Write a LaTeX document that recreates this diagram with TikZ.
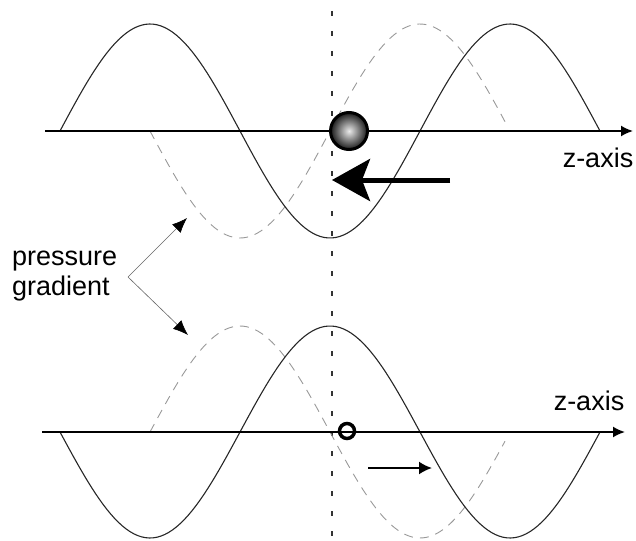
\documentclass[tikz,border=0pt]{standalone}
\usepackage{fontspec}
\setmainfont{Liberation Sans}
\usetikzlibrary{arrows.meta}

\begin{document}
\begin{tikzpicture}[
  x=1pt, y=-1pt,
  wave/.style={line width=1.1pt, black!85},
  ghost/.style={line width=0.9pt, black!40, dash pattern=on 9pt off 7pt},
  axis/.style={line width=1.8pt, -{Latex[length=12pt, width=11pt]}},
  lbl/.style={font=\fontsize{27}{30}\selectfont, inner sep=0pt, align=left},
  ptr/.style={line width=0.6pt, black!60, -{Latex[length=15pt, width=12pt, black]}},
  force/.style={line width=5pt, -{Stealth[length=38pt, width=42pt, inset=8pt]}},
  drift/.style={line width=2pt, -{Latex[length=13pt, width=13pt]}}
]
\useasboundingbox (0,0) rectangle (636,540);

% vertical reference line
\coordinate (vtop) at (332,0);
\coordinate (vbot) at (332,540);
\draw[line width=2.7pt, black!80, dash pattern=on 5pt off 15pt, dash phase=9pt]
  (vtop) -- (vbot);

% upper panel
\coordinate (ua) at (45,131);
\coordinate (ub) at (633,131);
\draw[ghost] plot[domain=150:505, samples=100] (\x, {131+107*sin(\x-150)});
\draw[wave]  plot[domain=60:600,  samples=140] (\x, {131-107*sin(\x-60)});
\draw[axis] (ua) -- (ub);
\node[lbl] (uz) at (598,158) {z-axis};
\node[circle, minimum size=37pt, inner sep=0pt, draw=black, line width=3pt,
      inner color=black!8, outer color=black!90] (bead) at (349,131) {};
\coordinate (ft) at (450,180);
\coordinate (fh) at (332,180);
\draw[force] (ft) -- (fh);

% lower panel
\coordinate (la) at (42,432);
\coordinate (lb) at (625,432);
\draw[ghost] plot[domain=150:505, samples=100] (\x, {432-106*sin(\x-150)});
\draw[wave]  plot[domain=60:600,  samples=140] (\x, {432+106*sin(\x-60)});
\draw[axis] (la) -- (lb);
\node[lbl] (lz) at (589,401) {z-axis};
\node[circle, draw, line width=3.5pt, minimum size=15pt, inner sep=0pt] (probe) at (347,431) {};
\coordinate (dt) at (368,468);
\coordinate (dh) at (432,468);
\draw[drift] (dt) -- (dh);

% label with two pointers
\node[lbl, anchor=west] (pg) at (12,276) {pressure\\gradient};
\coordinate (fork) at (128,277);
\coordinate (pu) at (187,218);
\coordinate (pd) at (188,335);
\draw[ptr] (fork) -- (pu);
\draw[ptr] (fork) -- (pd);

\end{tikzpicture}
\end{document}
